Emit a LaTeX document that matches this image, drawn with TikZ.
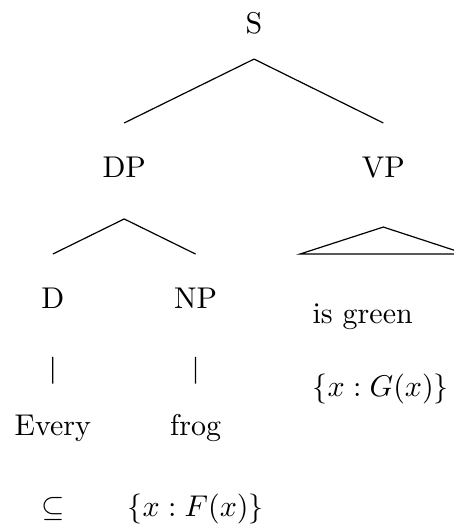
\documentclass[tikz,border=0pt]{standalone}
\usepackage{amsmath, amssymb}
\usepackage{tikz}
\usetikzlibrary{positioning}
\tikzstyle{cat}=[inner sep=0pt, text height=1.5ex, text depth=.25ex]
\tikzstyle{branch}=[draw, line width=.4pt]

\begin{document}
\begin{tikzpicture}[node distance=42.3pt]
                        \useasboundingbox (0,0) rectangle (151.3pt,-175.7pt);
                        \clip (0,0) rectangle (151.3pt,-175.7pt);
                        \node [cat,anchor=base] (s) at (84.7pt,-11.1pt) {S};
                        \node [cat,anchor=base] (dp) at (41.4pt,-59.1pt) {DP};
                        \node [cat,anchor=base] (vp) at (127.8pt,-59.1pt) {VP};
                        \node [cat,anchor=base] (d) at (17.6pt,-103pt) {D};
                        \node [cat,anchor=base] (np) at (65.2pt,-103pt) {NP};
                        \node [cat] (every) [below of=d] {Every};
                        \node [cat] (frog) [below of=np] {frog};
                        \node [cat] (sub) [below of=every,node distance=27pt] {$\subseteq$};
                        \node [cat] (fset) [below of=frog,node distance=27pt] {$\{x : F(x)\}$};
                        \node [cat,anchor=base west] (green) at (104pt,-107.7pt) {is green};
                        \node [cat] (gset) [below=24.6pt of green.base west,anchor=base west] {$\{x : G(x)\}$};
                        \path[branch]
                        ([yshift=-8.6pt]s.base) -- ([yshift=18.1pt]dp.base)
                        ([yshift=-8.6pt]s.base) -- ([yshift=18.1pt]vp.base)
                        ([yshift=-13.9pt]dp.base) -- ([yshift=18.3pt]d.base)
                        ([yshift=-13.9pt]dp.base) -- ([yshift=18.3pt]np.base)
                        ([yshift=-16pt]d.base) -- ([yshift=17.4pt]every.base)
                        ([yshift=-16pt]np.base) -- ([yshift=17.4pt]frog.base);
                        \path[branch] ([yshift=-16.6pt]vp.base) -- ([xshift=-4pt,yshift=23pt]green.base west) -- ++(55.3pt,0) -- cycle;
                    \end{tikzpicture}
\end{document}
